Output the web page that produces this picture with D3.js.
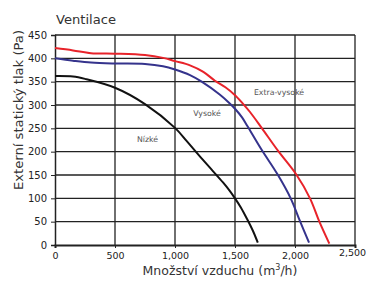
<!DOCTYPE html>
<html><head><meta charset="utf-8">
<script src="https://cdn.jsdelivr.net/npm/d3@7"></script>
<style>
html,body{margin:0;padding:0;background:#fff;}
svg{display:block;}
text{font-family:"DejaVu Sans",sans-serif;}
</style></head>
<body>
<script>
const title = "Ventilace";
const xLabel = "Množství vzduchu (m";
const yLabel = "Externí statický tlak (Pa)";
const xTicks = [0, 500, 1000, 1500, 2000, 2500];
const xTickLabels = ["0", "500", "1,000", "1,500", "2,000", "2,500"];
const yTicks = [0, 50, 100, 150, 200, 250, 300, 350, 400, 450];
const seriesNames = ["Nízké", "Vysoké", "Extra-vysoké"];
const nizkeX = [0, 150, 250, 500, 750, 1000, 1100, 1200, 1300, 1400, 1450, 1500, 1550, 1600, 1650, 1690];
const nizkeY = [362, 361, 356, 337, 302, 251, 222, 192, 163, 134, 118, 100, 80, 56, 30, 5];
const vysokeX = [0, 150, 300, 500, 750, 900, 1000, 1125, 1222, 1375, 1450, 1500, 1560, 1603, 1722, 1853, 1964, 2040, 2117];
const vysokeY = [400, 395, 391, 389, 388, 383, 376, 364, 350, 322, 305, 292, 273, 255, 204, 152, 100, 52, 5];
const extraX = [0, 150, 300, 500, 750, 900, 1000, 1125, 1236, 1333, 1420, 1500, 1569, 1625, 1722, 1861, 2008, 2125, 2203, 2286];
const extraY = [422, 417, 411, 410, 407, 401, 394, 385, 371, 352, 338, 321, 302, 285, 251, 201, 152, 100, 50, 3];
const seriesColors = ["#111111", "#35338c", "#e8232a"];
const labelPos = [[771, 221], [1267, 276], [1867, 321]];

const W = 366, H = 284;
const m = {left: 55, right: 11, top: 35, bottom: 39};
const svg = d3.select("body").append("svg").attr("width", W).attr("height", H);
const x = d3.scaleLinear().domain([0, 2500]).range([m.left, W - m.right]);
const y = d3.scaleLinear().domain([0, 450]).range([H - m.bottom, m.top]);

// grid
const g = svg.append("g");
g.selectAll("line.v").data(xTicks.slice(1)).join("line")
  .attr("x1", d => x(d)).attr("x2", d => x(d))
  .attr("y1", y(0)).attr("y2", y(450))
  .attr("stroke", "#222").attr("stroke-width", 1.3);
g.selectAll("line.h").data(yTicks.slice(1)).join("line")
  .attr("x1", x(0)).attr("x2", x(2500))
  .attr("y1", d => y(d)).attr("y2", d => y(d))
  .attr("stroke", "#222").attr("stroke-width", 1.3);

// axes
const yAxis = d3.axisLeft(y).tickValues(yTicks).tickSize(4).tickFormat(d3.format("d"));
const ya = svg.append("g").attr("transform", `translate(${x(0)},0)`).call(yAxis);
ya.select(".domain").attr("stroke", "#222").attr("stroke-width", 1.5);
ya.selectAll(".tick line").attr("stroke", "#222");
ya.selectAll("text").attr("font-family", "Liberation Sans, Arial, sans-serif")
  .attr("font-size", 10).attr("fill", "#222").attr("dx", "-1");

const xAxis = d3.axisBottom(x).tickValues(xTicks).tickSize(3).tickFormat((d, i) => xTickLabels[i]);
const xa = svg.append("g").attr("transform", `translate(0,${y(0)})`).call(xAxis);
xa.select(".domain").attr("stroke", "#222").attr("stroke-width", 2);
xa.selectAll(".tick line").attr("stroke", "#222");
xa.selectAll("text").attr("font-family", "Liberation Sans, Arial, sans-serif")
  .attr("font-size", 9.5).attr("fill", "#222").attr("dy", "0.8em");
xa.selectAll(".tick").filter(d => d === 2500).select("text").attr("dy", "0.55em").attr("dx", "-3");

// curves
const allX = [nizkeX, vysokeX, extraX];
const allY = [nizkeY, vysokeY, extraY];
const line = d3.line().x(d => x(d[0])).y(d => y(d[1])).curve(d3.curveCatmullRom.alpha(0.5));
allX.forEach((xs, i) => {
  const pts = xs.map((v, j) => [v, allY[i][j]]);
  svg.append("path").datum(pts).attr("d", line)
    .attr("fill", "none").attr("stroke", seriesColors[i]).attr("stroke-width", 2);
});

// series labels
svg.selectAll("text.lab").data(seriesNames).join("text")
  .attr("x", (d, i) => x(labelPos[i][0])).attr("y", (d, i) => y(labelPos[i][1]))
  .attr("text-anchor", "middle").attr("font-size", 7.8).attr("fill", "#555")
  .text(d => d);

// title
svg.append("text").attr("x", 56).attr("y", 24).attr("font-size", 12.5)
  .attr("textLength", 60).attr("lengthAdjust", "spacingAndGlyphs")
  .attr("fill", "#333").text(title);

// y label
svg.append("text").attr("transform", `translate(23,110) rotate(-90)`)
  .attr("text-anchor", "middle").attr("font-size", 12).attr("fill", "#333")
  .attr("textLength", 160).attr("lengthAdjust", "spacingAndGlyphs").text(yLabel);

// x label
const xl = svg.append("text").attr("x", 220).attr("y", 275)
  .attr("text-anchor", "middle").attr("font-size", 12.5).attr("fill", "#333");
xl.append("tspan").text(xLabel);
xl.append("tspan").attr("font-size", 8).attr("dy", -5).text("3");
xl.append("tspan").attr("dy", 5).text("/h)");
</script>
</body></html>
